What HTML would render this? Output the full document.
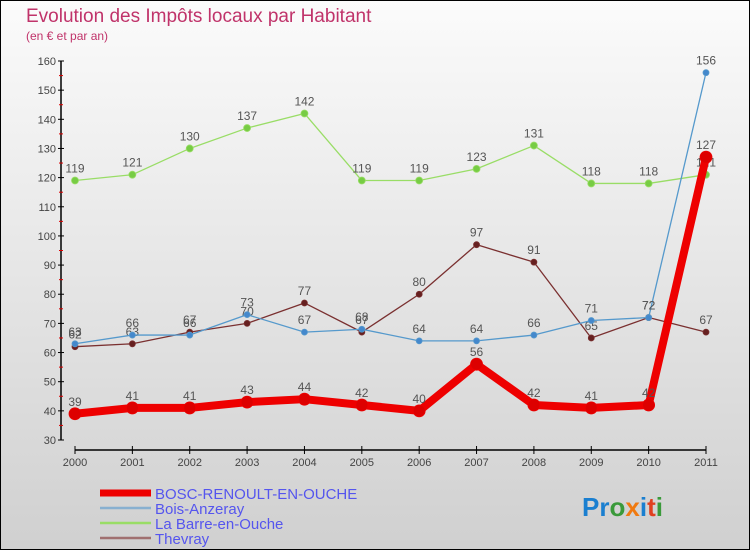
<!DOCTYPE html>
<html><head><meta charset="utf-8"><style>
body{margin:0;width:750px;height:550px;overflow:hidden;font-family:"Liberation Sans",sans-serif}
#c{position:absolute;left:0;top:0;width:748px;height:548px;border:1px solid #000;background:linear-gradient(#fbfbfb,#d0d0d0)}
</style></head><body>
<div id="c"></div>
<svg id="s" width="750" height="550" style="position:absolute;left:0;top:0">
<text x="26" y="22" font-size="19" fill="#c0336a">Evolution des Impôts locaux par Habitant</text>
<text x="26" y="40" font-size="12" fill="#c0336a">(en € et par an)</text>
<g id="axes"></g><g id="series"></g><g id="legend"></g>
<text x="582" y="516" font-size="26" font-weight="bold"><tspan fill="#1a7fd0">Pr</tspan><tspan fill="#3a9a3a">o</tspan><tspan fill="#f07a10">x</tspan><tspan fill="#1a7fd0">i</tspan><tspan fill="#e04020">t</tspan><tspan fill="#3a9a3a">i</tspan></text>
</svg>
<script>
const years=[2000,2001,2002,2003,2004,2005,2006,2007,2008,2009,2010,2011];
const yTicks=[30,40,50,60,70,80,90,100,110,120,130,140,150,160];
const bosc=[39,41,41,43,44,42,40,56,42,41,42,127];
const bois=[63,66,66,73,67,68,64,64,66,71,72,156];
const barre=[119,121,130,137,142,119,119,123,131,118,118,121];
const thevray=[62,63,67,70,77,67,80,97,91,65,72,67];
const NS="http://www.w3.org/2000/svg";
const xS=i=>75+i*(706-75)/11;
const yS=v=>440-(v-30)*(440-61)/130;
function mk(t,a,p){const e=document.createElementNS(NS,t);for(const k in a)e.setAttribute(k,a[k]);p.appendChild(e);return e;}
const ax=document.getElementById('axes');
const yl=mk('line',{x1:61,y1:61,x2:61,y2:440,stroke:'#000','stroke-width':1.5},ax);


yTicks.forEach(v=>{
 mk('line',{x1:58,y1:yS(v),x2:64,y2:yS(v),stroke:'#000'},ax);
 if(v<160)mk('line',{x1:59,y1:yS(v+5),x2:63,y2:yS(v+5),stroke:'#d00'},ax);
 const t=mk('text',{x:56,y:yS(v)+4,'font-size':11,'text-anchor':'end',fill:'#444'},ax);t.textContent=v;
 
 
});
const xl=mk('line',{x1:75,y1:450,x2:706,y2:450,stroke:'#000','stroke-width':1.5},ax);


years.forEach((y,i)=>{
 mk('line',{x1:xS(i),y1:446,x2:xS(i),y2:454,stroke:'#000'},ax);
 const t=mk('text',{x:xS(i),y:466,'font-size':11,'text-anchor':'middle',fill:'#444'},ax);t.textContent=y;
 
 
});
const sg=document.getElementById('series');
function draw(data,color,w,r,fill,name,labels){
 const g=mk('g',{},sg);
 
 
 mk('polyline',{points:data.map((v,i)=>xS(i)+','+yS(v)).join(' '),fill:'none',stroke:color,'stroke-width':w,'stroke-linejoin':'round'},g);
 data.forEach((v,i)=>{
  const c=mk('circle',{cx:xS(i),cy:yS(v),r:r,fill:fill,stroke:color,'stroke-width':0.8},g);
  
  
  if(labels){const t=mk('text',{x:xS(i),y:yS(v)-8,'font-size':12,'text-anchor':'middle',fill:'#555'},g);t.textContent=v;
  
  }
 });
}
draw(barre,'#99dd66',1.3,3.5,'#77cc44','la-barre-en-ouche',true);
draw(thevray,'#7a3030',1.3,3,'#662020','thevray',true);
draw(bois,'#5599cc',1.3,3,'#4488cc','bois-anzeray',true);
draw(bosc,'#ee0000',8,6,'#dd0000','bosc-renoult-en-ouche',true);
const lg=document.getElementById('legend');
const leg=[['BOSC-RENOULT-EN-OUCHE','#ee0000',7],['Bois-Anzeray','#88b0d0',2.5],['La Barre-en-Ouche','#99dd66',2.5],['Thevray','#a07070',2.5]];
leg.forEach((l,i)=>{
 const y=493+i*15;
 const g=mk('g',{},lg);
 
 
 mk('line',{x1:100,y1:y,x2:151,y2:y,stroke:l[1],'stroke-width':l[2]},g);
 const t=mk('text',{x:155,y:y+6,'font-size':15,fill:'#5555ee'},g);t.textContent=l[0];
});
</script>
</body></html>
